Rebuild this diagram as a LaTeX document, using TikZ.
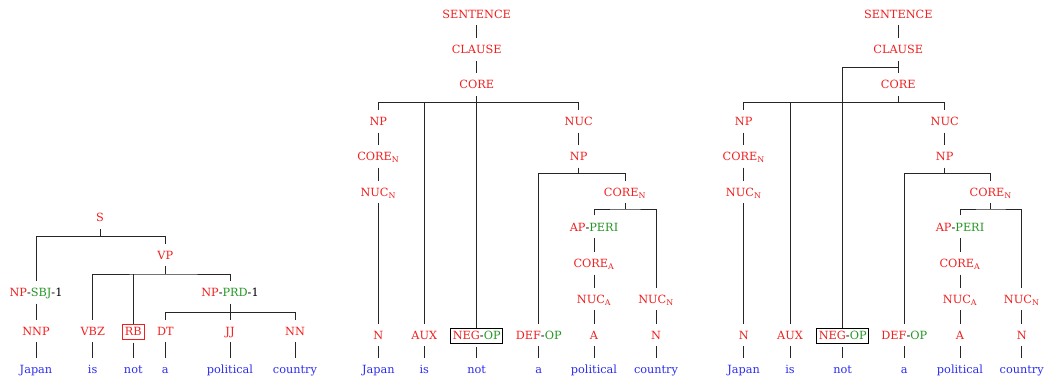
\documentclass[tikz,border=0pt]{standalone}
\usepackage{fontspec}
\setmainfont{DejaVu Serif}
\definecolor{tred}{RGB}{240,32,32}
\definecolor{tgreen}{RGB}{34,150,34}
\definecolor{tblue}{RGB}{44,44,240}
\newcommand\gr[1]{\textcolor{tgreen}{#1}}
\newcommand\bk[1]{\textcolor{black}{#1}}
\newcommand\sbs[1]{\textsubscript{#1}}
\tikzset{
  lab/.style={anchor=base, font=\fontsize{11.3}{14}\selectfont, text=tred,
    inner xsep=1pt, inner ysep=0pt, outer sep=0pt, text height=15.5pt, text depth=7pt},
  word/.style={lab, text=tblue},
  boxed/.style={anchor=base, font=\fontsize{11.3}{14}\selectfont, draw, line width=0.7pt,
    inner xsep=2.2pt, inner ysep=2.3pt, outer sep=0pt, text height=8.7pt, text depth=2.5pt},
  edge/.style={line width=0.7pt, draw=black!85},
}
\begin{document}
\begin{tikzpicture}[x=1pt,y=-1pt]
\useasboundingbox (0,0) rectangle (1056,379);
% ---------------- left tree ----------------
\node[lab] (aS) at (100,222) {S};
\node[lab] (aVP) at (165.3,259) {VP};
\node[lab] (aNPs) at (36,296.5) {NP\bk{-}\gr{SBJ}\bk{-1}};
\node[lab] (aNPp) at (230,296.5) {NP\bk{-}\gr{PRD}\bk{-1}};
\node[lab] (aNNP) at (36,335) {NNP};
\node[lab] (aVBZ) at (92.7,335) {VBZ};
\node[boxed, draw=tred, text=tred] (aRB) at (133.3,335) {RB};
\node[lab] (aDT) at (165.3,335) {DT};
\node[lab] (aJJ) at (230,335) {JJ};
\node[lab] (aNN) at (295,335) {NN};
\node[word] (aw1) at (36,373) {Japan};
\node[word] (aw2) at (92.7,373) {is};
\node[word] (aw3) at (133.3,373) {not};
\node[word] (aw4) at (165.3,373) {a};
\node[word] (aw5) at (230,373) {political};
\node[word] (aw6) at (295,373) {country};
\coordinate (aSb) at (aS.south |- 0,236.7);
\coordinate (aVPb) at (aVP.south |- 0,274);
\coordinate (aNPpb) at (aNPp.south |- 0,312.3);
\begin{scope}[edge]
\draw (aS.south) -- (aSb);
\draw (aNPs.north) |- (aSb) -| (aVP.north);
\draw (aVP.south) -- (aVPb);
\draw (aVBZ.north) |- (aVPb) -| (aNPp.north);
\draw (aRB.north) -- (aRB.north |- aVPb);
\draw (aNPp.south) -- (aNPpb);
\draw (aDT.north) |- (aNPpb) -| (aNN.north);
\draw (aJJ.north) -- (aNPpb);
\draw (aNPs.south) -- (aNNP.north);
\draw (aNNP.south) -- (aw1.north);
\draw (aVBZ.south) -- (aw2.north);
\draw[shorten <=3pt] (aRB.south) -- (aw3.north);
\draw (aDT.south) -- (aw4.north);
\draw (aJJ.south) -- (aw5.north);
\draw (aNN.south) -- (aw6.north);
\end{scope}
% ---------------- middle tree ----------------
\node[lab] (bSEN) at (476.7,18.3) {SENTENCE};
\node[lab] (bCLA) at (476.7,54) {CLAUSE};
\node[lab] (bCOR) at (476.7,89) {CORE};
\node[lab] (bNP) at (378.3,125.7) {NP};
\node[lab] (bCN) at (378.3,160.7) {CORE\sbs{N}};
\node[lab] (bNN) at (378.3,196.5) {NUC\sbs{N}};
\node[lab] (bN) at (378.3,339) {N};
\node[lab] (bAUX) at (424.3,339) {AUX};
\node[boxed, draw=black, text=tred] (bNEG) at (476.7,339) {NEG\bk{-}\gr{OP}};
\node[lab] (bNUC) at (578.7,125.7) {NUC};
\node[lab] (bNP2) at (578.7,160.7) {NP};
\node[lab] (bDEF) at (538.7,339) {DEF\bk{-}\gr{OP}};
\node[lab] (bCN2) at (625,196.5) {CORE\sbs{N}};
\node[lab] (bAP) at (594,231) {AP\bk{-}\gr{PERI}};
\node[lab] (bCA) at (594,267.7) {CORE\sbs{A}};
\node[lab] (bNA) at (594,303.3) {NUC\sbs{A}};
\node[lab] (bA) at (594,339) {A};
\node[lab] (bNN2) at (656,303.3) {NUC\sbs{N}};
\node[lab] (bN2) at (656,339) {N};
\node[word] (bw1) at (378.3,373.3) {Japan};
\node[word] (bw2) at (424.3,373.3) {is};
\node[word] (bw3) at (476.7,373.3) {not};
\node[word] (bw4) at (538.7,373.3) {a};
\node[word] (bw5) at (594,373.3) {political};
\node[word] (bw6) at (656,373.3) {country};
\coordinate (bCORb) at (bCOR.south |- 0,102.3);
\coordinate (bNP2b) at (bNP2.south |- 0,173.3);
\coordinate (bCN2b) at (bCN2.south |- 0,209);
\begin{scope}[edge]
\draw (bSEN.south) -- (bCLA.north);
\draw (bCLA.south) -- (bCOR.north);
\draw (bCOR.south) -- (bCORb);
\draw (bNP.north) |- (bCORb) -| (bNUC.north);
\draw (bAUX.north) |- (bCORb);
\draw (bNEG.north) -- (bCORb);
\draw (bNP.south) -- (bCN.north);
\draw (bCN.south) -- (bNN.north);
\draw (bNN.south) -- (bN.north);
\draw (bNUC.south) -- (bNP2.north);
\draw (bNP2.south) -- (bNP2b);
\draw (bDEF.north) |- (bNP2b) -| (bCN2.north);
\draw (bCN2.south) -- (bCN2b);
\draw (bAP.north) |- (bCN2b) -| (bNN2.north);
\draw (bAP.south) -- (bCA.north);
\draw (bCA.south) -- (bNA.north);
\draw (bNA.south) -- (bA.north);
\draw (bNN2.south) -- (bN2.north);
\draw (bN.south) -- (bw1.north);
\draw (bAUX.south) -- (bw2.north);
\draw[shorten <=3pt] (bNEG.south) -- (bw3.north);
\draw (bDEF.south) -- (bw4.north);
\draw (bA.south) -- (bw5.north);
\draw (bN2.south) -- (bw6.north);
\end{scope}
% ---------------- right tree ----------------
\node[lab] (cSEN) at (898.3,18.3) {SENTENCE};
\node[lab] (cCLA) at (898.3,54) {CLAUSE};
\node[lab] (cCOR) at (898.3,89) {CORE};
\node[lab] (cNP) at (743.7,125.7) {NP};
\node[lab] (cCN) at (743.7,160.7) {CORE\sbs{N}};
\node[lab] (cNN) at (743.7,196.5) {NUC\sbs{N}};
\node[lab] (cN) at (743.7,339) {N};
\node[lab] (cAUX) at (790,339) {AUX};
\node[boxed, draw=black, text=tred] (cNEG) at (842.7,339) {NEG\bk{-}\gr{OP}};
\node[lab] (cNUC) at (944.7,125.7) {NUC};
\node[lab] (cNP2) at (944.7,160.7) {NP};
\node[lab] (cDEF) at (904.3,339) {DEF\bk{-}\gr{OP}};
\node[lab] (cCN2) at (990.7,196.5) {CORE\sbs{N}};
\node[lab] (cAP) at (960,231) {AP\bk{-}\gr{PERI}};
\node[lab] (cCA) at (960,267.7) {CORE\sbs{A}};
\node[lab] (cNA) at (960,303.3) {NUC\sbs{A}};
\node[lab] (cA) at (960,339) {A};
\node[lab] (cNN2) at (1021.7,303.3) {NUC\sbs{N}};
\node[lab] (cN2) at (1021.7,339) {N};
\node[word] (cw1) at (743.7,373.3) {Japan};
\node[word] (cw2) at (790,373.3) {is};
\node[word] (cw3) at (842.7,373.3) {not};
\node[word] (cw4) at (904.3,373.3) {a};
\node[word] (cw5) at (960,373.3) {political};
\node[word] (cw6) at (1021.7,373.3) {country};
\coordinate (cCLAb) at (cCLA.south |- 0,67.3);
\coordinate (cCORb) at (cCOR.south |- 0,102.3);
\coordinate (cNP2b) at (cNP2.south |- 0,173.3);
\coordinate (cCN2b) at (cCN2.south |- 0,209);
\begin{scope}[edge]
\draw (cSEN.south) -- (cCLA.north);
\draw (cCLA.south) -- (cCOR.north);
\draw (cNEG.north) |- (cCLAb);
\draw (cCOR.south) -- (cCORb);
\draw (cNP.north) |- (cCORb) -| (cNUC.north);
\draw (cAUX.north) |- (cCORb);
\draw (cNP.south) -- (cCN.north);
\draw (cCN.south) -- (cNN.north);
\draw (cNN.south) -- (cN.north);
\draw (cNUC.south) -- (cNP2.north);
\draw (cNP2.south) -- (cNP2b);
\draw (cDEF.north) |- (cNP2b) -| (cCN2.north);
\draw (cCN2.south) -- (cCN2b);
\draw (cAP.north) |- (cCN2b) -| (cNN2.north);
\draw (cAP.south) -- (cCA.north);
\draw (cCA.south) -- (cNA.north);
\draw (cNA.south) -- (cA.north);
\draw (cNN2.south) -- (cN2.north);
\draw (cN.south) -- (cw1.north);
\draw (cAUX.south) -- (cw2.north);
\draw[shorten <=3pt] (cNEG.south) -- (cw3.north);
\draw (cDEF.south) -- (cw4.north);
\draw (cA.south) -- (cw5.north);
\draw (cN2.south) -- (cw6.north);
\end{scope}
\end{tikzpicture}
\end{document}
